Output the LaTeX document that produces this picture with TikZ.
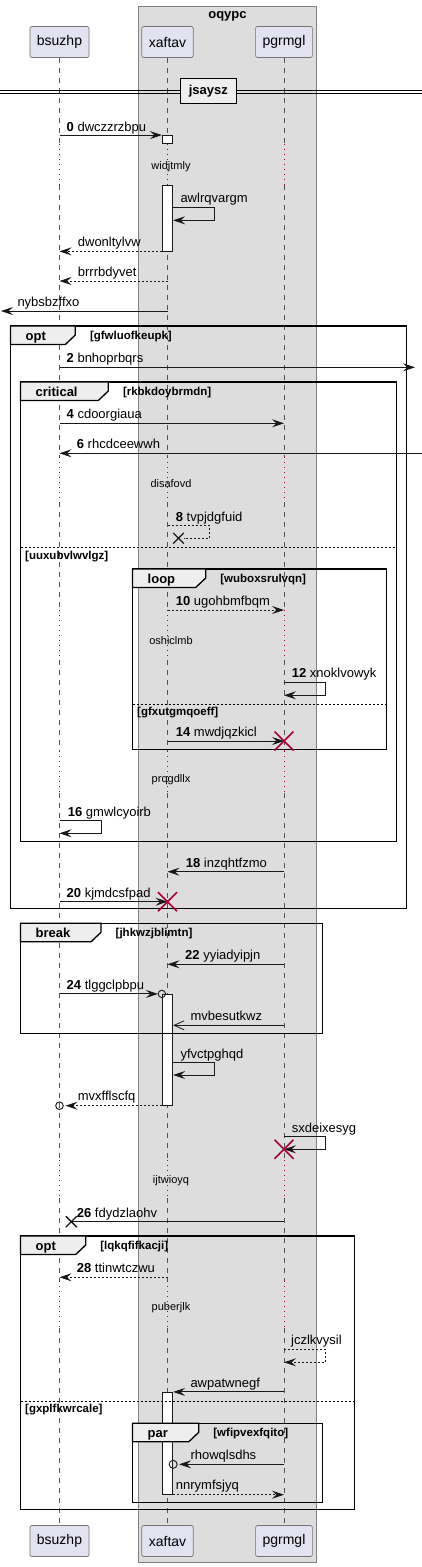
\documentclass[tikz,border=0pt]{standalone}
\usepackage{fontspec}
\setmainfont{Liberation Sans}
\usetikzlibrary{arrows.meta}

\definecolor{partfill}{HTML}{E2E2F0}
\definecolor{boxfill}{HTML}{DDDDDD}
\definecolor{tabfill}{HTML}{EEEEEE}
\definecolor{ink}{HTML}{181818}
\definecolor{killred}{HTML}{A80036}

% group frame: name, left, top, right, bottom, tab right, kind, guard
\newcommand{\grpbox}[8]{%
  \draw[grp] (#2,#3) rectangle (#4,#5);
  \filldraw[grptab] (#2,#3) -- (#6,#3) -- (#6,#3+9) -- (#6-10,#3+18.5) -- (#2,#3+18.5) -- cycle;
  \node[kind] (#1) at (#2+15,#3+14.5) {#7};
  \node[guard] (#1g) at (#6+14.5,#3+13.5) {#8};
}

\begin{document}
\begin{tikzpicture}[x=1pt, y=-1pt,
    part/.style={draw=ink!60, line width=0.7pt, fill=partfill, rounded corners=2pt, minimum height=31pt, inner xsep=7pt, font=\fontsize{14}{16}\selectfont},
    life/.style={draw=ink!75, line width=0.7pt, dash pattern=on 5pt off 5pt},
    pause/.style={draw=killred, line width=0.8pt, dash pattern=on 1pt off 4pt},
    act/.style={draw=ink, fill=white, line width=0.8pt, minimum width=10.5pt, inner sep=0pt},
    msg/.style={draw=ink, line width=0.9pt, -{Stealth[length=12pt, width=8pt, inset=4.5pt]}},
    reply/.style={msg, dash pattern=on 2pt off 2pt},
    async/.style={draw=ink, line width=0.8pt, -{Straight Barb[length=10pt, width=9pt]}},
    lbl/.style={anchor=base west, inner sep=0pt, font=\fontsize{13}{15}\selectfont},
    note/.style={anchor=base, inner sep=0pt, font=\fontsize{11}{13}\selectfont},
    grp/.style={draw=black, line width=1.3pt},
    grptab/.style={draw=black, fill=tabfill, line width=1.3pt},
    kind/.style={anchor=base west, inner sep=0pt, font=\bfseries\fontsize{13}{15}\selectfont},
    guard/.style={anchor=base west, inner sep=0pt, font=\bfseries\fontsize{11.5}{13}\selectfont},
    split/.style={draw=black, line width=0.8pt, dash pattern=on 2pt off 2pt},
    kill/.style={draw=killred, line width=1.6pt},
    lost/.style={draw=ink, line width=1.3pt}]

    \fill[white] (0,0) rectangle (422,1567);
    \useasboundingbox (0,0) rectangle (422,1567);

    % box and participants
    \filldraw[fill=boxfill, draw=ink!55, line width=0.9pt] (138.5,6) rectangle (316.5,1562);
    \node[anchor=base, inner sep=0pt, font=\bfseries\fontsize{13}{15}\selectfont] (oqypc) at (227.5,18) {oqypc};
    \node[part] (bsuzhp) at (59.5,42) {bsuzhp};
    \node[part] (xaftav) at (167.5,42) {xaftav};
    \node[part] (pgrmgl) at (284,42) {pgrmgl};
    \node[part] (bsuzhp2) at (59.5,1541) {bsuzhp};
    \node[part] (xaftav2) at (167.5,1541) {xaftav};
    \node[part] (pgrmgl2) at (284,1541) {pgrmgl};

    \foreach \p in {bsuzhp,xaftav,pgrmgl}{
        \draw[life] (\p.south) -- (\p |- 0,143.5) (\p |- 0,185) -- (\p |- 0,457)
            (\p |- 0,502) -- (\p |- 0,610) (\p |- 0,660) -- (\p |- 0,751)
            (\p |- 0,793) -- (\p |- 0,1160) (\p |- 0,1198) -- (\p |- 0,1281)
            (\p |- 0,1328) -- (\p2.north);
        \draw[pause] (\p |- 0,143.5) -- (\p |- 0,185) (\p |- 0,457) -- (\p |- 0,502)
            (\p |- 0,610) -- (\p |- 0,660) (\p |- 0,751) -- (\p |- 0,793)
            (\p |- 0,1160) -- (\p |- 0,1198) (\p |- 0,1281) -- (\p |- 0,1328);
    }

    % divider
    \draw[line width=0.9pt] (0,90.5) -- (422,90.5) (0,93.5) -- (422,93.5);
    \node[draw=black, line width=1.3pt, fill=tabfill, minimum width=56pt, minimum height=25pt, inner sep=0pt, font=\bfseries\fontsize{13}{15}\selectfont] (jsaysz) at (208.3,91) {jsaysz};

    % activations
    \node[act, minimum height=8pt] (act0) at (167.5,139.5) {};
    \node[act, minimum height=66pt] (act1) at (167.5,218) {};
    \node[act, minimum height=111pt] (act2) at (167.5,1049.8) {};
    \node[act, minimum height=102pt] (act3) at (167.5,1443.3) {};

    % groups
    \grpbox{opt1}{10.5}{326}{406.5}{908.7}{75.3}{opt}{[gfwluofkeupk]}
    \grpbox{crit}{20.5}{382}{396.5}{841.3}{108.3}{critical}{[rkbkdoybrmdn]}
    \draw[split] (20.5,547.7) -- (396.5,547.7);
    \node[guard] (crit2) at (25,559.3) {[uuxubvlwvlgz]};
    \grpbox{loop}{132.5}{569}{386.7}{749.3}{205.7}{loop}{[wuboxsrulvqn]}
    \draw[split] (132.5,704.3) -- (386.7,704.3);
    \node[guard] (loop2) at (137,715.5) {[gfxutgmqoeff]};
    \grpbox{brk}{20.5}{923.3}{322.7}{1033.7}{101}{break}{[jhkwzjblimtn]}
    \grpbox{opt2}{20.5}{1236}{354.3}{1509.3}{85.7}{opt}{[lqkqfifkacji]}
    \draw[split] (20.5,1401.7) -- (354.3,1401.7);
    \node[guard] (opt22) at (25,1412.7) {[gxplfkwrcale]};
    \grpbox{par}{132.5}{1423.3}{322.7}{1502.7}{198.7}{par}{[wfipvexfqito]}

    % delays
    \node[note] (widjtmly) at (171,169) {widjtmly};
    \node[note] (disafovd) at (171,487) {disafovd};
    \node[note] (oshiclmb) at (171,644) {oshiclmb};
    \node[note] (prqgdllx) at (171,782) {prqgdllx};
    \node[note] (ijtwioyq) at (171,1183) {ijtwioyq};
    \node[note] (puberjlk) at (171,1310.5) {puberjlk};

    % messages
    \coordinate (out5) at (1,311);
    \coordinate (out2) at (415,367.3);
    \coordinate (in6) at (422,453.3);
    \draw[msg] (bsuzhp |- act0.north) -- (act0.north west);
    \node[lbl] (dwczzrzbpu) at (66.5,131) {\textbf{0} dwczzrzbpu};
    \draw[msg] (act1.east |- 0,207.3) -- ++(41.5,0) -- ++(0,13) -- (act1.east |- 0,220.3);
    \node[lbl] (awlrqvargm) at (180.3,202.8) {awlrqvargm};
    \draw[reply] (act1.south west) -- (bsuzhp |- act1.south);
    \node[lbl] (dwonltylvw) at (77.7,246.5) {dwonltylvw};
    \draw[reply] (xaftav |- 0,281) -- (bsuzhp |- 0,281);
    \node[lbl] (brrrbdyvet) at (77.7,276.5) {brrrbdyvet};
    \draw[msg] (xaftav |- out5) -- (out5);
    \node[lbl] (nybsbzffxo) at (17.3,306.5) {nybsbzffxo};

    \draw[msg] (bsuzhp |- out2) -- (out2);
    \node[lbl] (bnhoprbqrs) at (66.5,362.8) {\textbf{2} bnhoprbqrs};
    \draw[msg] (bsuzhp |- 0,423.3) -- (pgrmgl |- 0,423.3);
    \node[lbl] (cdoorgiaua) at (66.5,418.8) {\textbf{4} cdoorgiaua};
    \draw[msg] (in6) -- (bsuzhp |- in6);
    \node[lbl] (rhcdceewwh) at (76.7,448.8) {\textbf{6} rhcdceewwh};
    \coordinate (x8) at (178.5,538.3);
    \draw[reply, -] (xaftav |- 0,525.7) -- ++(42,0) -- ++(0,12.6) -- ([xshift=5pt]x8);
    \draw[lost] (x8) +(-5.3,-5.3) -- +(5.3,5.3) +(-5.3,5.3) -- +(5.3,-5.3);
    \node[lbl] (tvpjdgfuid) at (175.7,521.2) {\textbf{8} tvpjdgfuid};

    \draw[reply] (xaftav |- 0,610) -- (pgrmgl |- 0,610);
    \node[lbl] (ugohbmfbqm) at (175.7,605.5) {\textbf{10} ugohbmfbqm};
    \draw[msg] (pgrmgl |- 0,682.3) -- ++(41.5,0) -- ++(0,13) -- (pgrmgl |- 0,695.3);
    \node[lbl] (xnoklvowyk) at (291.7,677.8) {\textbf{12} xnoklvowyk};
    \draw[msg] (xaftav |- 0,741) -- (pgrmgl |- 0,741);
    \draw[kill] (pgrmgl |- 0,741) +(-9.5,-9.5) -- +(9.5,9.5) +(-9.5,9.5) -- +(9.5,-9.5);
    \node[lbl] (mwdjqzkicl) at (175.7,736.5) {\textbf{14} mwdjqzkicl};
    \draw[msg] (bsuzhp |- 0,820.7) -- ++(42,0) -- ++(0,12.6) -- (bsuzhp |- 0,833.3);
    \node[lbl] (gmwlcyoirb) at (67.7,816.2) {\textbf{16} gmwlcyoirb};
    \draw[msg] (pgrmgl |- 0,871.7) -- (xaftav |- 0,871.7);
    \node[lbl] (inzqhtfzmo) at (185.7,867.2) {\textbf{18} inzqhtfzmo};
    \draw[msg] (bsuzhp |- 0,901.7) -- (xaftav |- 0,901.7);
    \draw[kill] (xaftav |- 0,901.7) +(-9.5,-9.5) -- +(9.5,9.5) +(-9.5,9.5) -- +(9.5,-9.5);
    \node[lbl] (kjmdcsfpad) at (66.5,897.2) {\textbf{20} kjmdcsfpad};

    \draw[msg] (pgrmgl |- 0,964.3) -- (xaftav |- 0,964.3);
    \node[lbl] (yyiadyipjn) at (185,959.8) {\textbf{22} yyiadyipjn};
    \draw[msg] (bsuzhp |- act2.north) -- ([xshift=-4pt]act2.north west);
    \draw[draw=ink, line width=0.9pt] (act2.north west) circle (3.7pt);
    \node[lbl] (tlggclpbpu) at (66.5,989.8) {\textbf{24} tlggclpbpu};
    \draw[async] (pgrmgl |- 0,1025.3) -- (act2.east |- 0,1025.3);
    \node[lbl] (mvbesutkwz) at (190.3,1020.8) {mvbesutkwz};
    \draw[msg] (act2.east |- 0,1062.7) -- ++(41.5,0) -- ++(0,12.3) -- (act2.east |- 0,1075);
    \node[lbl] (yfvctpghqd) at (180.3,1058.2) {yfvctpghqd};
    \coordinate (o20) at (bsuzhp |- act2.south);
    \draw[reply] (act2.south west) -- ([xshift=6pt]o20);
    \draw[draw=ink, line width=0.9pt] (o20) circle (3.8pt);
    \node[lbl] (mvxfflscfq) at (77.7,1100.8) {mvxfflscfq};
    \draw[msg] (pgrmgl |- 0,1136.7) -- ++(41.5,0) -- ++(0,12.6) -- (pgrmgl |- 0,1149.3);
    \draw[kill] (pgrmgl |- 0,1149.3) +(-9.5,-9.5) -- +(9.5,9.5) +(-9.5,9.5) -- +(9.5,-9.5);
    \node[lbl] (sxdeixesyg) at (291.7,1132.2) {sxdeixesyg};
    \coordinate (x26) at (71.3,1221.7);
    \draw[msg, -] (pgrmgl |- x26) -- (x26);
    \draw[lost] (x26) +(-5.5,-5.5) -- +(5.5,5.5) +(-5.5,5.5) -- +(5.5,-5.5);
    \node[lbl] (fdydzlaohv) at (76.7,1217.2) {\textbf{26} fdydzlaohv};

    \draw[reply] (xaftav |- 0,1277.3) -- (bsuzhp |- 0,1277.3);
    \node[lbl] (ttinwtczwu) at (76.7,1272.8) {\textbf{28} ttinwtczwu};
    \draw[reply] (pgrmgl |- 0,1349.3) -- ++(41.5,0) -- ++(0,13) -- (pgrmgl |- 0,1362.3);
    \node[lbl] (jczlkvysil) at (291,1344.8) {jczlkvysil};
    \draw[msg] (pgrmgl |- act3.north) -- (act3.north east);
    \node[lbl] (awpatwnegf) at (190.3,1387.8) {awpatwnegf};
    \coordinate (o27) at (act3.east |- 0,1464.3);
    \draw[msg] (pgrmgl |- o27) -- ([xshift=6pt]o27);
    \draw[draw=ink, line width=0.9pt] (o27) circle (4pt);
    \node[lbl] (rhowqlsdhs) at (190.3,1459.8) {rhowqlsdhs};
    \draw[reply] (act3.south east) -- (pgrmgl |- act3.south);
    \node[lbl] (nnrymfsjyq) at (175.7,1489.8) {nnrymfsjyq};
\end{tikzpicture}
\end{document}
